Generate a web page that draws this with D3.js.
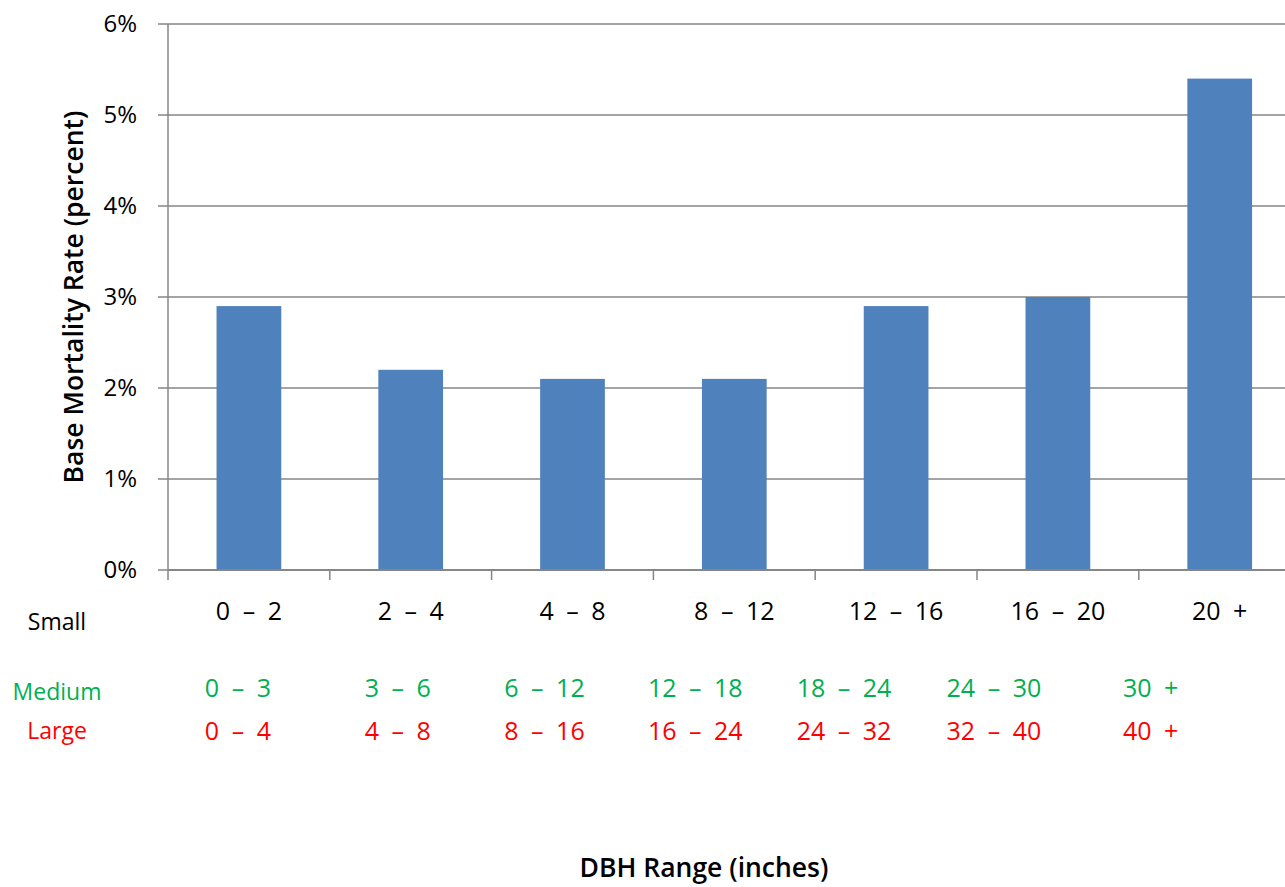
<!DOCTYPE html>
<html>
<head>
<meta charset="utf-8">
<script src="https://cdn.jsdelivr.net/npm/d3@7"></script>
<style>
  html, body { margin: 0; padding: 0; background: #fff; }
  svg { display: block; }
  text { font-family: "Open Sans", "DejaVu Sans", sans-serif; }
</style>
</head>
<body>
<svg id="chart" width="1285" height="887"></svg>
<script>
// DBH size classes (small trees) and the matching classes for medium and large trees
const smallClasses  = ["0 \u2013 2", "2 \u2013 4", "4 \u2013 8", "8 \u2013 12", "12 \u2013 16", "16 \u2013 20", "20 +"];
const mediumClasses = ["0 \u2013 3", "3 \u2013 6", "6 \u2013 12", "12 \u2013 18", "18 \u2013 24", "24 \u2013 30", "30 +"];
const largeClasses  = ["0 \u2013 4", "4 \u2013 8", "8 \u2013 16", "16 \u2013 24", "24 \u2013 32", "32 \u2013 40", "40 +"];
// Base mortality rate, percent
const mortality = [2.9, 2.2, 2.1, 2.1, 2.9, 3.0, 5.4];
const yTicks = [0, 1, 2, 3, 4, 5, 6];

const svg = d3.select("#chart");
const plotLeft = 168, plotTop = 24, plotBottom = 570, visibleRight = 1285;
const step = 161.8;

// the last category band runs past the right edge of the page
const xb = d3.scaleBand().domain(smallClasses).range([plotLeft, plotLeft + step * smallClasses.length]);
const barWidth = xb.bandwidth() * 0.4;
const y = d3.scaleLinear().domain([0, 6]).range([plotBottom, plotTop]);

const gridColor = "#868686";

// horizontal gridlines
svg.append("g").selectAll("line").data(yTicks).join("line")
  .attr("x1", plotLeft - 10).attr("x2", visibleRight)
  .attr("y1", d => y(d)).attr("y2", d => y(d))
  .attr("stroke", gridColor).attr("stroke-width", 1.5);

// y tick labels
svg.append("g").selectAll("text").data(yTicks).join("text")
  .attr("x", 137).attr("y", d => y(d) + 8)
  .attr("text-anchor", "end")
  .attr("font-size", 24)
  .attr("fill", "#000")
  .text(d => d + "%");

// bars
svg.append("g").selectAll("rect").data(mortality).join("rect")
  .attr("x", (d, i) => xb(smallClasses[i]) + (xb.bandwidth() - barWidth) / 2)
  .attr("width", barWidth)
  .attr("y", d => y(d))
  .attr("height", d => y(0) - y(d))
  .attr("fill", "#4F81BD");

// y axis line
svg.append("line")
  .attr("x1", plotLeft).attr("x2", plotLeft).attr("y1", plotTop).attr("y2", plotBottom + 10)
  .attr("stroke", gridColor).attr("stroke-width", 1.5);

// x axis line and category boundary ticks
svg.append("line")
  .attr("x1", plotLeft).attr("x2", visibleRight).attr("y1", plotBottom).attr("y2", plotBottom)
  .attr("stroke", gridColor).attr("stroke-width", 2);
svg.append("g").selectAll("line").data(smallClasses.slice(1)).join("line")
  .attr("x1", d => xb(d)).attr("x2", d => xb(d))
  .attr("y1", plotBottom).attr("y2", plotBottom + 10)
  .attr("stroke", gridColor).attr("stroke-width", 1.5);

// category labels, small trees
svg.append("g").selectAll("text").data(smallClasses).join("text")
  .attr("x", d => xb(d) + xb.bandwidth() / 2)
  .attr("y", 620)
  .attr("text-anchor", "middle")
  .attr("font-size", 25)
  .attr("word-spacing", 6)
  .attr("fill", "#000")
  .text(d => d);

// medium and large rows sit progressively left of the band centres
const rowShift = [-11, -13, -28, -39, -52, -64, -69];
function classRow(labels, yPos, color) {
  svg.append("g").selectAll("text").data(labels).join("text")
    .attr("x", (d, i) => xb(smallClasses[i]) + xb.bandwidth() / 2 + rowShift[i])
    .attr("y", yPos)
    .attr("text-anchor", "middle")
    .attr("font-size", 25)
    .attr("word-spacing", 6)
    .attr("fill", color)
    .text(d => d);
}
classRow(mediumClasses, 697, "#00B050");
classRow(largeClasses, 740, "#FF0000");

// row names
const rowNames = [["Small", 630, "#000"], ["Medium", 700, "#00B050"], ["Large", 739, "#FF0000"]];
svg.append("g").selectAll("text").data(rowNames).join("text")
  .attr("x", 57).attr("y", d => d[1])
  .attr("text-anchor", "middle")
  .attr("font-size", 23)
  .attr("fill", d => d[2])
  .text(d => d[0]);

// axis titles
svg.append("text")
  .attr("transform", "translate(83,297) rotate(-90)")
  .attr("text-anchor", "middle")
  .attr("font-size", 26.5).attr("font-weight", 600)
  .text("Base Mortality Rate (percent)");
svg.append("text")
  .attr("x", 704).attr("y", 877)
  .attr("text-anchor", "middle")
  .attr("font-size", 26.5).attr("font-weight", 600)
  .text("DBH Range (inches)");
</script>
</body>
</html>
